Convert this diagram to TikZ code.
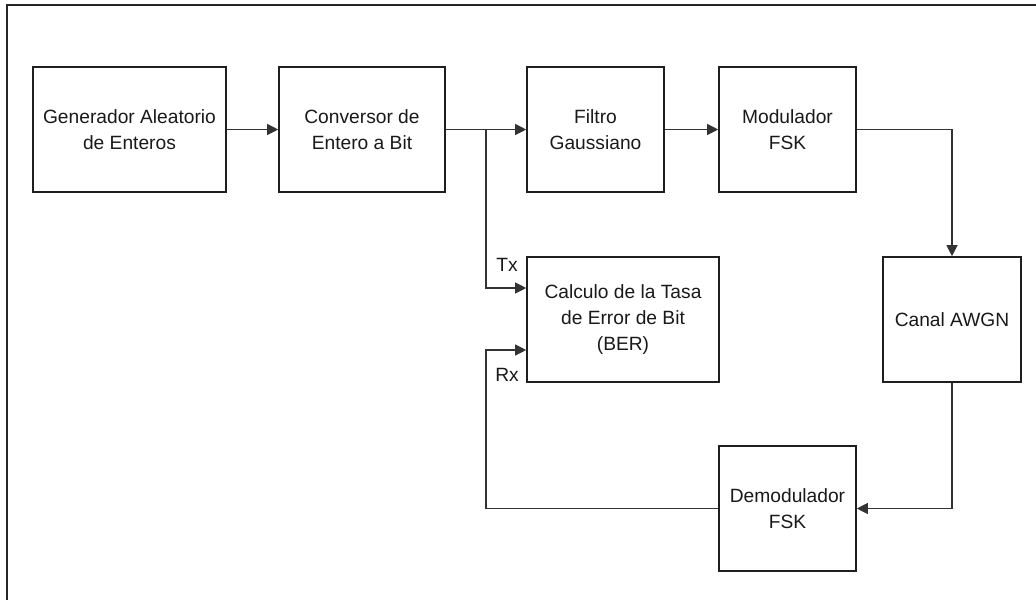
\documentclass[tikz,border=0pt]{standalone}
\usepackage{fontspec}
\setmainfont{Liberation Sans}
\usetikzlibrary{arrows.meta,calc}
\begin{document}
\begin{tikzpicture}[x=1pt,y=-1pt,
  blk/.style={draw=black!88,line width=1.6pt,inner sep=0pt,minimum height=125pt,align=center,
    font=\fontsize{19.2}{26}\selectfont,text=black!90},
  arr/.style={draw=black!80,line width=1.1pt,-{Triangle[length=11pt,width=11pt]}},
  lbl/.style={font=\fontsize{19.2}{23}\selectfont,text=black!90,inner sep=0pt}]
\useasboundingbox (0,0) rectangle (1036,600);
\draw[line width=2.6pt,black!85] (7,600) -- (7,5) -- (1036,5);
\node[blk,minimum width=193pt] (gen) at (129.5,129.5) {Generador Aleatorio\\de Enteros};
\node[blk,minimum width=166pt] (conv) at (362,129.5) {Conversor de\\Entero a Bit};
\node[blk,minimum width=137pt] (filt) at (595.5,129.5) {Filtro\\Gaussiano};
\node[blk,minimum width=137pt] (mod) at (787.5,129.5) {Modulador\\FSK};
\node[blk,minimum width=192pt] (ber) at (623,319.5) {Calculo de la Tasa\\de Error de Bit\\(BER)};
\node[blk,minimum width=138pt] (canal) at (952,319.5) {Canal AWGN};
\node[blk,minimum width=137pt] (demod) at (787.5,508.5) {Demodulador\\FSK};
\coordinate (br) at (486,129.5);
\coordinate (txin) at ($(ber.west)+(0,-31.5)$);
\coordinate (rxin) at ($(ber.west)+(0,30.5)$);
\coordinate (rxbend) at (486,350);
\draw[arr] (gen) -- (conv);
\draw[arr] (conv) -- (filt);
\draw[arr] (br) |- (txin);
\draw[arr] (filt) -- (mod);
\draw[arr] (mod.east) -| (canal.north);
\draw[arr] (canal.south) |- (demod.east);
\draw[arr] (demod.west) -| (rxbend) -- (rxin);
\node[lbl] (tx) at (507,265) {Tx};
\node[lbl] (rx) at (507,375) {Rx};
\end{tikzpicture}
\end{document}
